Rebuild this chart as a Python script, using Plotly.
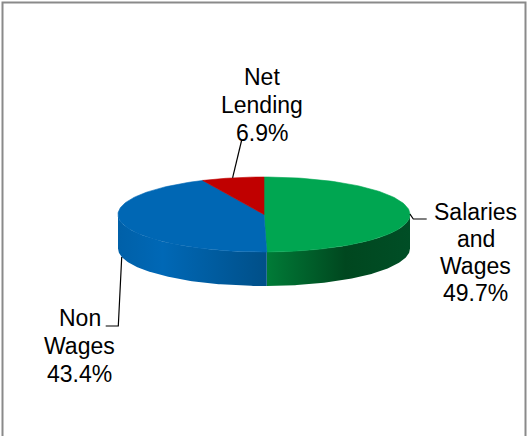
import numpy as np
import plotly.graph_objects as go

# Budget composition (shares of total, %)
categories = ["Salaries and Wages", "Non Wages", "Net Lending"]
label_lines = [["Salaries", "and", "Wages"], ["Non", "Wages"], ["Net", "Lending"]]
shares = [49.7, 43.4, 6.9]

top_colors = ["#00A651", "#0067B4", "#C00000"]
side_scales = [
    [[0, "#007B37"], [0.55, "#00471F"], [1, "#004E26"]],
    [[0, "#0060A8"], [0.3, "#0068B6"], [1, "#004F88"]],
    [[0, "#900000"], [1, "#700000"]],
]

W, H = 531, 436
CX, CY, RX, RY, DEPTH = 264, 214.5, 146, 37.5, 34
FONT = "Liberation Sans, Arial, sans-serif"

# label placement: (centre x, first-line y, line step) and leader-line path after the anchor
label_pos = [(475.5, 211.5, 27.3), (79.5, 318, 28), (262, 77, 28)]
leader_tail = [[(413.3, 219), (426.7, 219)], [(118.3, 326), (105.7, 326)], [(241.7, 140)]]
leader_on_side = [False, True, False]


def pt(theta_deg, drop=0.0):
    t = np.radians(theta_deg)
    return CX + RX * np.cos(t), CY - RY * np.sin(t) + drop


def arc(a, b, drop=0.0, n=120):
    th = np.linspace(a, b, n)
    xs, ys = pt(th, drop)
    return list(xs), list(ys)


total = sum(shares)
starts, ends = [], []
acc = 0.0
for v in shares:
    s = 90 - 360 * acc / total
    acc += v
    e = 90 - 360 * acc / total
    starts.append(s)
    ends.append(e)

fig = go.Figure()

# front walls (visible half: angles -180..0)
for i in range(len(shares)):
    lo, hi = ends[i], starts[i]
    for shift in (-360, 0, 360):
        a = max(lo + shift, -180)
        b = min(hi + shift, 0)
        if b - a <= 0.01:
            continue
        tx, ty = arc(b, a)
        bx, by = arc(a, b, DEPTH)
        xs = tx + bx + [tx[0]]
        ys = ty + by + [ty[0]]
        fig.add_trace(go.Scatter(
            x=xs, y=ys, mode="lines", fill="toself",
            line=dict(width=0), fillcolor=top_colors[i],
            fillgradient=dict(type="horizontal", colorscale=side_scales[i],
                              start=min(xs), stop=max(xs)),
            hoverinfo="skip", showlegend=False))

# top faces
for i in range(len(shares)):
    ax, ay = arc(starts[i], ends[i])
    xs = [CX] + ax + [CX]
    ys = [CY] + ay + [CY]
    fig.add_trace(go.Scatter(
        x=xs, y=ys, mode="lines", fill="toself",
        line=dict(width=0.6, color=top_colors[i]), fillcolor=top_colors[i],
        name=categories[i], hoverinfo="name", showlegend=False))

# leader lines and labels
annotations = []
for i in range(len(shares)):
    mid = (starts[i] + ends[i]) / 2
    x0, y0 = pt(mid, DEPTH if leader_on_side[i] else 0.0)
    path = [(x0, y0)] + leader_tail[i]
    fig.add_trace(go.Scatter(
        x=[p[0] for p in path], y=[p[1] for p in path], mode="lines",
        line=dict(color="black", width=1.2), hoverinfo="skip", showlegend=False))

    lx, ly, step = label_pos[i]
    lines = label_lines[i] + [f"{shares[i]:.1f}%"]
    for k, txt in enumerate(lines):
        annotations.append(dict(
            x=lx, y=ly + k * step, xref="x", yref="y", text=txt, showarrow=False,
            xanchor="center", yanchor="middle",
            font=dict(family=FONT, size=23, color="black")))

fig.update_layout(
    width=W, height=H,
    margin=dict(l=0, r=0, t=0, b=0),
    paper_bgcolor="white", plot_bgcolor="white",
    xaxis=dict(range=[0, W], visible=False, fixedrange=True),
    yaxis=dict(range=[H, 0], visible=False, fixedrange=True),
    annotations=annotations,
    shapes=[dict(type="rect", xref="x", yref="y", x0=2.5, x1=525.5, y0=2.5, y1=H + 10,
                 line=dict(color="#8A8A8A", width=2), fillcolor="rgba(0,0,0,0)", layer="above")],
)

fig.write_html("out.html")
